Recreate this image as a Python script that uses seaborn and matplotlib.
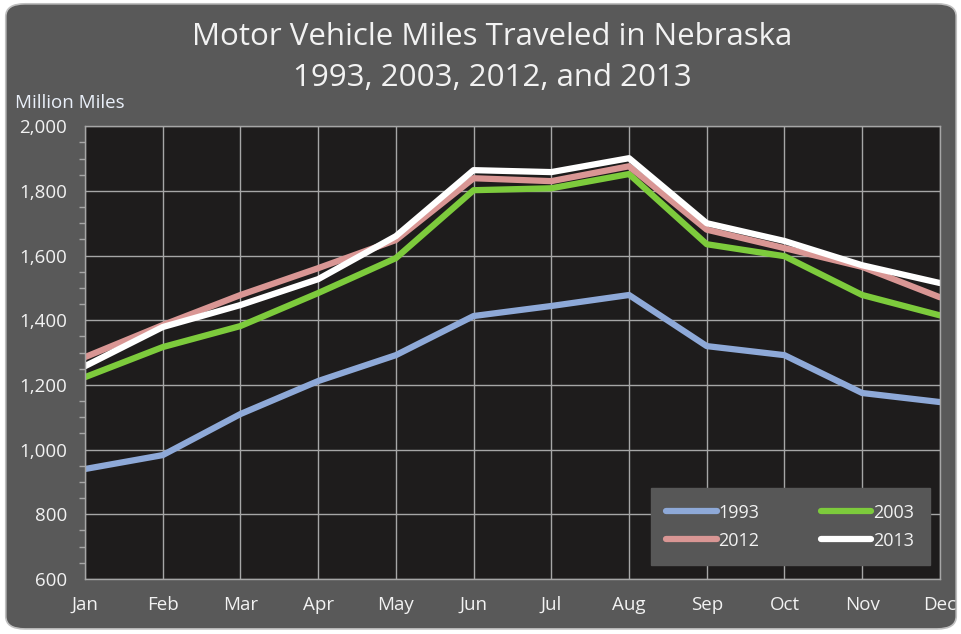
import matplotlib
matplotlib.use("Agg")
import matplotlib.pyplot as plt
from matplotlib.patches import FancyBboxPatch
from matplotlib.ticker import MultipleLocator, FuncFormatter
import seaborn as sns
import pandas as pd

# ─── Data ──────────────────────────────────────────────────────────────────────
months = ["Jan", "Feb", "Mar", "Apr", "May", "Jun",
          "Jul", "Aug", "Sep", "Oct", "Nov", "Dec"]
years = ["1993", "2003", "2012", "2013"]

miles_1993 = [940, 983, 1110, 1212, 1292, 1413, 1444, 1478, 1320, 1292, 1175, 1147]
miles_2003 = [1224, 1317, 1382, 1484, 1592, 1802, 1808, 1852, 1635, 1598, 1478, 1415]
miles_2012 = [1286, 1385, 1478, 1561, 1648, 1839, 1830, 1876, 1680, 1623, 1565, 1471]
miles_2013 = [1258, 1379, 1447, 1527, 1660, 1864, 1858, 1901, 1700, 1645, 1570, 1515]

colors = ["#8EA9D8", "#7DCB3C", "#D99694", "#FFFFFF"]

series = dict(zip(years, [miles_1993, miles_2003, miles_2012, miles_2013]))
df = pd.DataFrame([
    {"month": i, "year": y, "miles": v}
    for y in years
    for i, v in enumerate(series[y])
])

# ─── Style ─────────────────────────────────────────────────────────────────────
sns.set_style("dark")
plt.rcParams["font.family"] = ["Open Sans", "DejaVu Sans"]

PANEL = "#595959"
PLOT_BG = "#1E1C1C"
GRID = "#A6A6A6"
TXT = "#F2F2F2"

fig = plt.figure(figsize=(9.62, 6.34), dpi=100, facecolor="white")
fig.patches.append(FancyBboxPatch(
    (0.006, 0.008), 0.988, 0.986, boxstyle="round,pad=0,rounding_size=0.02",
    transform=fig.transFigure, facecolor=PANEL, edgecolor="#BFBFBF", lw=1.2,
    zorder=-10))

ax = fig.add_axes([0.0884, 0.0868, 0.8886, 0.7142])
ax.set_facecolor(PLOT_BG)

sns.lineplot(data=df, x="month", y="miles", hue="year", hue_order=years,
             palette=colors, linewidth=4.5, ax=ax, legend=True)

ax.set_xlim(0, len(months) - 1)
ax.set_ylim(600, 2000)
ax.set_xticks(range(len(months)))
ax.set_xticklabels(months)
ax.yaxis.set_major_locator(MultipleLocator(200))
ax.yaxis.set_minor_locator(MultipleLocator(50))
ax.yaxis.set_major_formatter(FuncFormatter(lambda v, _: f"{v:,.0f}"))

ax.grid(True, which="major", color=GRID, lw=1.0)
ax.tick_params(axis="both", colors=TXT, labelsize=13.5)
ax.tick_params(axis="x", length=7, width=1, color=GRID, direction="out", pad=5)
ax.tick_params(axis="y", which="major", length=6, width=1, color=GRID, pad=7)
ax.tick_params(axis="y", which="minor", length=4, width=1, color=GRID, left=True)
for s in ax.spines.values():
    s.set_color(GRID)
    s.set_linewidth(1)
ax.set_xlabel("")
ax.set_ylabel("")

# ─── Legend (row-wise order) ───────────────────────────────────────────────────
handles, labels = ax.get_legend_handles_labels()
order = [0, 2, 1, 3]
leg = ax.legend([handles[i] for i in order], [labels[i] for i in order],
                ncol=2, loc="lower right", bbox_to_anchor=(0.988, 0.031),
                borderaxespad=0,
                frameon=True, facecolor="#575757", edgecolor="#575757",
                framealpha=1, fancybox=False, fontsize=13,
                handlelength=2.8, handletextpad=0.1, columnspacing=3.4,
                labelspacing=0.55, borderpad=0.85)
for t in leg.get_texts():
    t.set_color(TXT)
for h in leg.get_lines():
    h.set_linewidth(4.5)
    h.set_solid_capstyle("round")

# ─── Titles ────────────────────────────────────────────────────────────────────
fig.text(0.512, 0.941, "Motor Vehicle Miles Traveled in Nebraska",
         ha="center", va="center", color=TXT, fontsize=22.5)
fig.text(0.512, 0.877, "1993, 2003, 2012, and 2013",
         ha="center", va="center", color=TXT, fontsize=22.5)
fig.text(0.016, 0.838, "Million Miles", ha="left", va="center",
         color="#EAF0FA", fontsize=13.5)

fig.savefig("out.png", dpi=100, facecolor=fig.get_facecolor())
